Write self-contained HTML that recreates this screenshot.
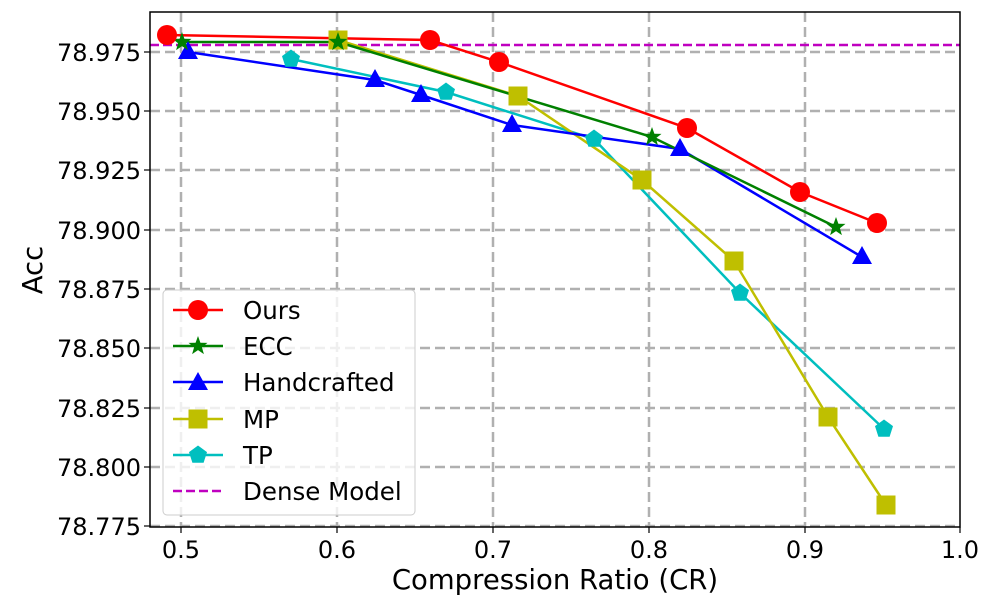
<!DOCTYPE html>
<html><head><style>body{margin:0;background:#fff}svg{display:block;font-family:"DejaVu Sans","Liberation Sans",sans-serif}</style></head><body>
<svg width="1000" height="600" viewBox="0 0 1000 600">
<defs>
<g id="star"><polygon points="0,-10 2.4,-3.3 9.5,-3.1 3.9,1.3 5.9,8.1 0,4.1 -5.9,8.1 -3.9,1.3 -9.5,-3.1 -2.4,-3.3" fill="green"/></g>
<g id="tri"><polygon points="0,-11 10,7 -10,7" fill="blue"/></g>
<g id="sq"><rect x="-9.5" y="-9.5" width="19" height="19" fill="#bfbf00"/></g>
<g id="pent"><polygon points="0,-9.5 9,-2.9 5.6,7.7 -5.6,7.7 -9,-2.9" fill="#00bfbf"/></g>
</defs>
<g stroke="#b0b0b0" stroke-width="2.5" stroke-dasharray="10,5" fill="none">
<line x1="181" y1="12" x2="181" y2="527"/><line x1="337" y1="12" x2="337" y2="527"/><line x1="493" y1="12" x2="493" y2="527"/><line x1="649" y1="12" x2="649" y2="527"/><line x1="805" y1="12" x2="805" y2="527"/>
<line x1="150" y1="52" x2="960" y2="52"/><line x1="150" y1="111" x2="960" y2="111"/><line x1="150" y1="170" x2="960" y2="170"/><line x1="150" y1="230" x2="960" y2="230"/><line x1="150" y1="289" x2="960" y2="289"/><line x1="150" y1="348" x2="960" y2="348"/><line x1="150" y1="408" x2="960" y2="408"/><line x1="150" y1="467" x2="960" y2="467"/><line x1="150" y1="526" x2="960" y2="526"/>
</g>
<line x1="150" y1="45" x2="960" y2="45" stroke="#bf00bf" stroke-width="2.5" stroke-dasharray="9,4"/>
<g fill="none" stroke-width="2.5">
<polyline stroke="#00bfbf" points="291,59 446,92 594,139 740,293 884,429"/>
<polyline stroke="#bfbf00" points="338,40 518,96 642,180 734,261 828,417 886,505"/>
<polyline stroke="blue" points="188,52 375,80 421,95 512,125 680,149 862,257"/>
<polyline stroke="green" points="182,42 338,42 652,137 836,227"/>
<polyline stroke="red" points="167,35 430,40 499,62 687,128 800,192 877,223"/>
</g>
<use href="#pent" x="291" y="59"/><use href="#pent" x="446" y="92"/><use href="#pent" x="594" y="139"/><use href="#pent" x="740" y="293"/><use href="#pent" x="884" y="429"/>
<use href="#sq" x="338" y="40"/><use href="#sq" x="518" y="96"/><use href="#sq" x="642" y="180"/><use href="#sq" x="734" y="261"/><use href="#sq" x="828" y="417"/><use href="#sq" x="886" y="505"/>
<use href="#tri" x="188" y="52"/><use href="#tri" x="375" y="80"/><use href="#tri" x="421" y="95"/><use href="#tri" x="512" y="125"/><use href="#tri" x="680" y="149"/><use href="#tri" x="862" y="257"/>
<use href="#star" x="182" y="42"/><use href="#star" x="338" y="42"/><use href="#star" x="652" y="137"/><use href="#star" x="836" y="227"/>
<g fill="red"><circle cx="167" cy="35" r="10"/><circle cx="430" cy="40" r="10"/><circle cx="499" cy="62" r="10"/><circle cx="687" cy="128" r="10"/><circle cx="800" cy="192" r="10"/><circle cx="877" cy="223" r="10"/></g>
<rect x="150" y="12" width="810" height="515" fill="none" stroke="#000" stroke-width="1.5"/>
<g stroke="#000" stroke-width="1.2">
<line x1="181" y1="527" x2="181" y2="533"/><line x1="337" y1="527" x2="337" y2="533"/><line x1="493" y1="527" x2="493" y2="533"/><line x1="649" y1="527" x2="649" y2="533"/><line x1="805" y1="527" x2="805" y2="533"/><line x1="960" y1="527" x2="960" y2="533"/>
<line x1="144" y1="52" x2="150" y2="52"/><line x1="144" y1="111" x2="150" y2="111"/><line x1="144" y1="170" x2="150" y2="170"/><line x1="144" y1="230" x2="150" y2="230"/><line x1="144" y1="289" x2="150" y2="289"/><line x1="144" y1="348" x2="150" y2="348"/><line x1="144" y1="408" x2="150" y2="408"/><line x1="144" y1="467" x2="150" y2="467"/><line x1="144" y1="526" x2="150" y2="526"/>
</g>
<g font-size="24" text-anchor="middle">
<text x="181" y="558">0.5</text><text x="337" y="558">0.6</text><text x="493" y="558">0.7</text><text x="649" y="558">0.8</text><text x="805" y="558">0.9</text><text x="960" y="558">1.0</text>
</g>
<g font-size="24" text-anchor="end">
<text x="141" y="61">78.975</text><text x="141" y="120">78.950</text><text x="141" y="179">78.925</text><text x="141" y="239">78.900</text><text x="141" y="298">78.875</text><text x="141" y="357">78.850</text><text x="141" y="417">78.825</text><text x="141" y="476">78.800</text><text x="141" y="535">78.775</text>
</g>
<text x="555" y="589" font-size="27.5" text-anchor="middle">Compression Ratio (CR)</text>
<text transform="translate(42,270) rotate(-90)" font-size="27.5" text-anchor="middle">Acc</text>
<rect x="163" y="290" width="252" height="225" rx="4" fill="#fff" fill-opacity="0.8" stroke="#ccc"/>
<g stroke-width="2.5">
<line x1="173" y1="310" x2="223" y2="310" stroke="red"/><line x1="173" y1="346" x2="223" y2="346" stroke="green"/><line x1="173" y1="382" x2="223" y2="382" stroke="blue"/><line x1="173" y1="419" x2="223" y2="419" stroke="#bfbf00"/><line x1="173" y1="455" x2="223" y2="455" stroke="#00bfbf"/><line x1="173" y1="491" x2="223" y2="491" stroke="#bf00bf" stroke-dasharray="9,4"/>
</g>
<circle cx="198" cy="310" r="10" fill="red"/><use href="#star" x="198" y="346"/><use href="#tri" x="198" y="383"/><use href="#sq" x="198" y="419"/><use href="#pent" x="198" y="455"/>
<g font-size="24.5">
<text x="243" y="319">Ours</text><text x="243" y="355">ECC</text><text x="243" y="391">Handcrafted</text><text x="243" y="428">MP</text><text x="243" y="464">TP</text><text x="243" y="500">Dense Model</text>
</g>
</svg>
</body></html>
